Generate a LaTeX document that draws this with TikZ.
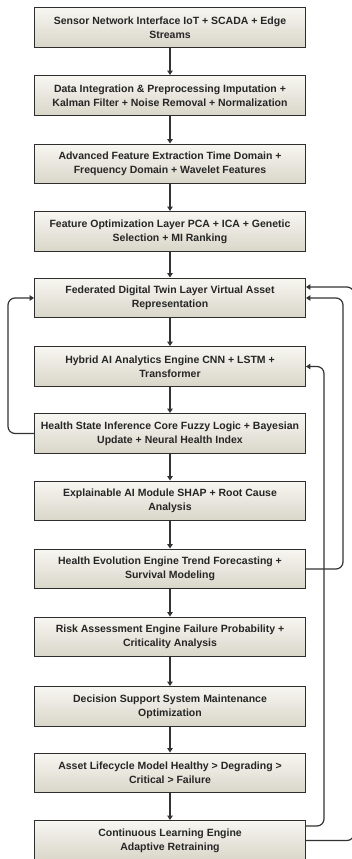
\documentclass[tikz,border=0pt]{standalone}
\usepackage{fontspec}
\setmainfont{Liberation Sans}
\usetikzlibrary{arrows.meta,positioning}

\definecolor{boxtop}{HTML}{F7F6F1}
\definecolor{boxbot}{HTML}{D9D6C9}
\definecolor{edge}{HTML}{2E2E2E}
\definecolor{wire}{HTML}{333333}

\tikzset{
  stage/.style={draw=edge, line width=1.4pt, top color=boxtop, bottom color=boxbot,
    minimum width=270.5pt, minimum height=39.5pt, inner sep=0pt,
    align=center, font=\bfseries\fontsize{10.5}{14}\selectfont, text=black!85},
  flow/.style={draw=wire, line width=1.2pt, -{Triangle[length=4.5pt,width=5.5pt]}},
  loop/.style={flow, rounded corners=7pt}
}

\begin{document}
\begin{tikzpicture}[x=1pt,y=-1pt]
  \useasboundingbox (0,0) rectangle (351,859);

  \node[stage] (s1)  at (170,27.5) {Sensor Network Interface IoT + SCADA + Edge\\Streams};
  \node[stage] (s2)  at (170,95.5) {Data Integration \& Preprocessing Imputation +\\Kalman Filter + Noise Removal + Normalization};
  \node[stage] (s3)  at (170,164) {Advanced Feature Extraction Time Domain +\\Frequency Domain + Wavelet Features};
  \node[stage] (s4)  at (170,231.5) {Feature Optimization Layer PCA + ICA + Genetic\\Selection + MI Ranking};
  \node[stage] (s5)  at (170,298) {Federated Digital Twin Layer Virtual Asset\\Representation};
  \node[stage] (s6)  at (170,366.5) {Hybrid AI Analytics Engine CNN + LSTM +\\Transformer};
  \node[stage] (s7)  at (170,433.5) {Health State Inference Core Fuzzy Logic + Bayesian\\Update + Neural Health Index};
  \node[stage] (s8)  at (170,501) {Explainable AI Module SHAP + Root Cause\\Analysis};
  \node[stage] (s9)  at (170,569) {Health Evolution Engine Trend Forecasting +\\Survival Modeling};
  \node[stage] (s10) at (170,637) {Risk Assessment Engine Failure Probability +\\Criticality Analysis};
  \node[stage] (s11) at (170,706.5) {Decision Support System Maintenance\\Optimization};
  \node[stage] (s12) at (170,773) {Asset Lifecycle Model Healthy > Degrading >\\Critical > Failure};
  \node[stage] (s13) at (170,840.5) {Continuous Learning Engine\\Adaptive Retraining};

  % main pipeline
  \foreach \a/\b in {s1/s2,s2/s3,s3/s4,s4/s5,s5/s6,s6/s7,s7/s8,s8/s9,s9/s10,s10/s11,s11/s12,s12/s13}
    \draw[flow] (\a) -- (\b);

  % feedback loops
  \coordinate (k1) at (8,433.5);
  \coordinate (k2) at (343,569);
  \coordinate (k3) at (324,826);
  \coordinate (k4) at (354,840.5);
  \draw[loop] (s7.west) -- (k1) |- (s5.west);
  \draw[loop] (s9.east) -- (k2) |- (s5.east);
  \draw[loop] ([yshift=14.5pt]s13.east) -- (k3) |- (s6.east);
  \draw[loop] (s13.east) -- (k4) |- ([yshift=11pt]s5.east);
\end{tikzpicture}
\end{document}
